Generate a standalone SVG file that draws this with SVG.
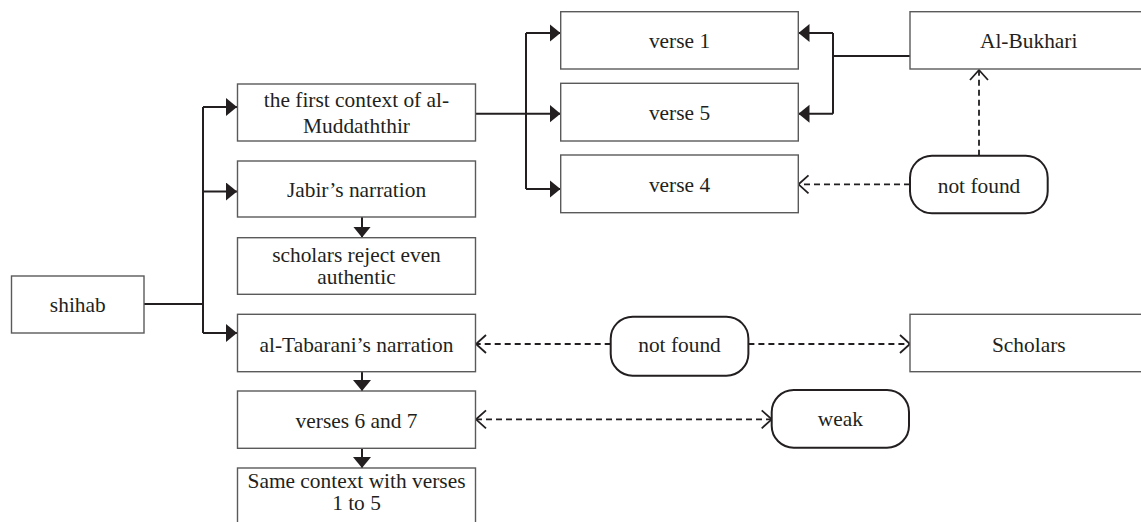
<svg xmlns="http://www.w3.org/2000/svg" width="1141" height="522" viewBox="0 0 1141 522">
  <style>
    .box { fill: #ffffff; stroke: #5a5a5a; stroke-width: 1.4; }
    .pill { fill: #ffffff; stroke: #231f20; stroke-width: 2; }
    .lbl { font-family: "Liberation Serif", "Times New Roman", serif; font-size: 21.4px; fill: #231f20; text-anchor: middle; }
    .solid { fill: none; stroke: #231f20; stroke-width: 2; }
    .dash { fill: none; stroke: #231f20; stroke-width: 1.8; stroke-dasharray: 6 4; }
  </style>
  <defs>
    <marker id="tri" markerUnits="userSpaceOnUse" markerWidth="12" markerHeight="19" refX="11" refY="9" orient="auto" viewBox="0 0 12 19">
      <path d="M0,0 L11,9 L0,18 z" fill="#231f20"/>
    </marker>
    <marker id="chev" markerUnits="userSpaceOnUse" markerWidth="13" markerHeight="22" refX="11" refY="10" orient="auto-start-reverse" viewBox="0 0 13 22">
      <path d="M1,1 L11,10 L1,19" fill="none" stroke="#231f20" stroke-width="1.8"/>
    </marker>
  </defs>

  <!-- connectors -->
  <g id="connectors">
    <!-- shihab branches -->
    <path class="solid" d="M144,304 H203"/>
    <path class="solid" d="M203,107 V333"/>
    <path class="solid" d="M203,107 H237" marker-end="url(#tri)"/>
    <path class="solid" d="M203,191.5 H237" marker-end="url(#tri)"/>
    <path class="solid" d="M203,333 H237" marker-end="url(#tri)"/>
    <!-- Jabir chain -->
    <path class="solid" d="M362,217 V237.5" marker-end="url(#tri)"/>
    <!-- first context to verses -->
    <path class="solid" d="M476,113.7 H560.5" marker-end="url(#tri)"/>
    <path class="solid" d="M526,33 V189"/>
    <path class="solid" d="M526,33 H560.5" marker-end="url(#tri)"/>
    <path class="solid" d="M526,189 H560.5" marker-end="url(#tri)"/>
    <!-- Al-Bukhari to verses -->
    <path class="solid" d="M910,56 H833"/>
    <path class="solid" d="M833,33 V113.7"/>
    <path class="solid" d="M833,33 H798.5" marker-end="url(#tri)"/>
    <path class="solid" d="M833,113.7 H798.5" marker-end="url(#tri)"/>
    <!-- dashed relations -->
    <path class="dash" d="M979,155.7 V70" marker-end="url(#chev)"/>
    <path class="dash" d="M910,184.3 H798.5" marker-end="url(#chev)"/>
    <path class="dash" d="M610.7,344 H476" marker-end="url(#chev)"/>
    <path class="dash" d="M748.4,344 H910" marker-end="url(#chev)"/>
    <path class="dash" d="M476,419.3 H771.7" marker-start="url(#chev)" marker-end="url(#chev)"/>
    <!-- al-Tabarani chain -->
    <path class="solid" d="M362,371.7 V391" marker-end="url(#tri)"/>
    <path class="solid" d="M362,448.3 V468" marker-end="url(#tri)"/>
  </g>

  <g id="shihab">
    <rect class="box" x="11.5" y="276" width="132.5" height="57"/>
    <text class="lbl" x="77.8" y="312">shihab</text>
  </g>
  <g id="first-context">
    <rect class="box" x="237.5" y="84" width="238" height="57"/>
    <text class="lbl" x="356.5" y="107">the first context of al-</text>
    <text class="lbl" x="356.5" y="132.5">Muddaththir</text>
  </g>
  <g id="jabir">
    <rect class="box" x="237.5" y="161" width="238" height="56"/>
    <text class="lbl" x="356.5" y="197">Jabir’s narration</text>
  </g>
  <g id="scholars-reject">
    <rect class="box" x="237.5" y="237.7" width="238" height="56.6"/>
    <text class="lbl" x="356.5" y="261.7">scholars reject even</text>
    <text class="lbl" x="356.5" y="284">authentic</text>
  </g>
  <g id="tabarani">
    <rect class="box" x="237.5" y="314.3" width="238" height="57.4"/>
    <text class="lbl" x="356.5" y="351.5">al-Tabarani’s narration</text>
  </g>
  <g id="verses-6-7">
    <rect class="box" x="237.5" y="391" width="238" height="57.3"/>
    <text class="lbl" x="356.5" y="428">verses 6 and 7</text>
  </g>
  <g id="same-context">
    <rect class="box" x="237.5" y="468" width="238" height="70"/>
    <text class="lbl" x="356.5" y="487.7">Same context with verses</text>
    <text class="lbl" x="356.5" y="510">1 to 5</text>
  </g>
  <g id="verse-1">
    <rect class="box" x="560.7" y="11.7" width="237.6" height="57.3"/>
    <text class="lbl" x="679.5" y="48.3">verse 1</text>
  </g>
  <g id="verse-5">
    <rect class="box" x="560.7" y="83.3" width="237.6" height="57.7"/>
    <text class="lbl" x="679.5" y="120">verse 5</text>
  </g>
  <g id="verse-4">
    <rect class="box" x="560.7" y="155" width="237.6" height="57.7"/>
    <text class="lbl" x="679.5" y="191.7">verse 4</text>
  </g>
  <g id="al-bukhari">
    <rect class="box" x="910" y="11.7" width="240" height="57.3"/>
    <text class="lbl" x="1028.7" y="48.3">Al-Bukhari</text>
  </g>
  <g id="not-found-1">
    <rect class="pill" x="910" y="155.7" width="137.7" height="57.6" rx="22" ry="22"/>
    <text class="lbl" x="979" y="192.5">not found</text>
  </g>
  <g id="not-found-2">
    <rect class="pill" x="610.7" y="316.7" width="137.7" height="59" rx="22" ry="22"/>
    <text class="lbl" x="679.5" y="352">not found</text>
  </g>
  <g id="scholars">
    <rect class="box" x="910" y="314.3" width="240" height="57.4"/>
    <text class="lbl" x="1028.8" y="351.7">Scholars</text>
  </g>
  <g id="weak">
    <rect class="pill" x="771.7" y="390" width="137.3" height="57.7" rx="22" ry="22"/>
    <text class="lbl" x="840.3" y="426">weak</text>
  </g>
</svg>
